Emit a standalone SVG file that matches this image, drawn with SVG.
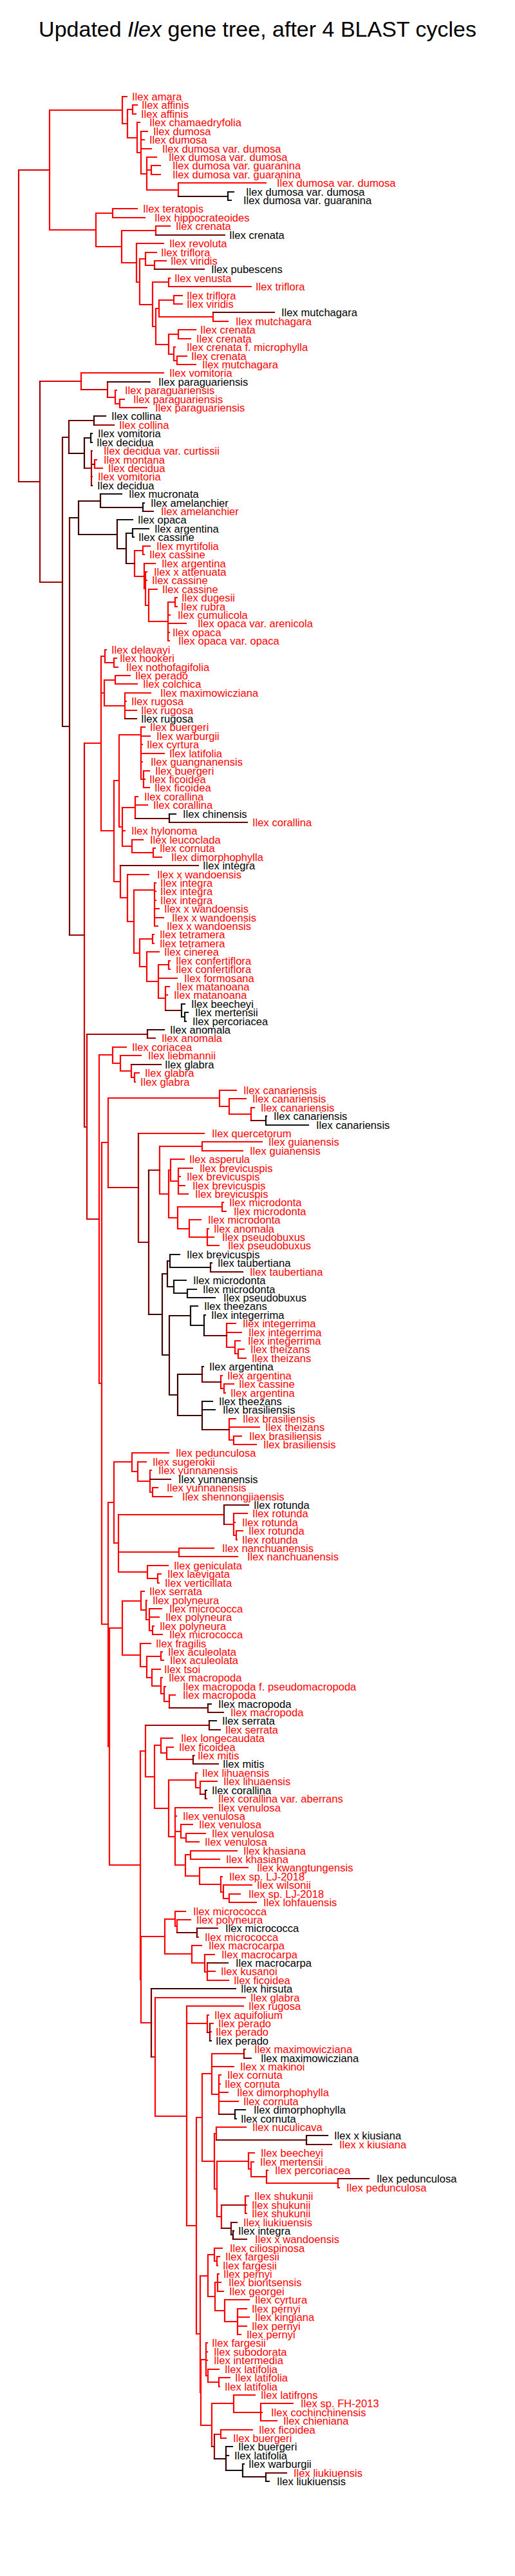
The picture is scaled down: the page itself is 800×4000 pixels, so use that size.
<svg xmlns="http://www.w3.org/2000/svg" width="800" height="4000" viewBox="0 0 800 4000">
<style>
text{font-family:"Liberation Sans",Arial,sans-serif;font-size:16.6px}
.tr{fill:#ff0000}.tk{fill:#000}
.title{font-size:34px;text-anchor:middle;fill:#000}
path{fill:none;stroke-width:2.2;stroke-linecap:square}
.r{stroke:#ff0000}.m{stroke:#d40000}.d{stroke:#a00000}.e{stroke:#700000}.b{stroke:#3c0000}.k{stroke:#111}
</style>
<rect width="800" height="4000" fill="#fff"/>
<text class="title" x="400" y="57">Updated <tspan font-style="italic">Ilex</tspan> gene tree, after 4 BLAST cycles</text>
<g id="connectors">
<path class="r" d="M77 171V357M77 171H190M77 357H149M190 150V192M190 150H197M190 192H198M198 170V214M198 170H206M198 214H213M206 163V177M206 163H213M206 177H211M213 190V237M213 190H217M213 237H219M219 204V270M219 204H229M219 217H224M219 231H235M219 270H228M228 244V295M228 244H243M228 264H235M228 295H277M235 257V271M235 257H249M235 271H249M277 284V305M277 284H413M149 331V383M149 331H175M149 383H189M175 324V338M175 324H213M175 338H225M189 358V408M189 358H242M189 408H212M242 351V365M242 351H264M212 378V438M212 378H254M212 438H217M217 402V473M217 402H226M217 473H237M226 392V412M226 392H243M226 412H240M240 405V418M240 405H258M237 438V507M237 438H262M237 507H242M262 432V445M262 432H264M262 445H390M242 479V535M242 479H247M242 535H262M247 466V492M247 466H270M247 492H331M270 459V472M270 459H283M270 472H283M331 485V499M331 499H354M262 519V550M262 519H277M262 550H270M277 512V526M277 512H304M277 526H296M270 539V560M270 539H272M270 560H275M275 553V566M275 553H290M275 566H304"/>
<path class="r" d="M126 579V605M126 579H254M167 617H179M179 606V627M179 606H181M179 627H186M186 620V633M186 620H193M186 633H228M142 700H143M142 740H143M147 714V727M147 714H150M147 727H159M209 855V895M209 855H222M209 895H224M222 848V861M222 848H233M222 861H224M224 875V914M224 875H241M224 914H226M226 888V940M226 888H228M226 901H228M226 940H231M231 915V965M231 915H244M231 965H261M261 935V995M261 935H272M261 955H264M261 968H289M261 982H263M261 995H263M272 928V942M272 928H275M272 942H275"/>
<path class="r" d="M131 1154H157M157 1019V1290M157 1019H163M157 1076H162M157 1290H177M163 1009V1029M163 1009H165M163 1029H177M177 1022V1036M177 1022H181M177 1036H183M162 1056V1096M162 1056H179M162 1096H194M179 1049V1062M179 1049H202M179 1062H213M194 1076V1116M194 1076H234M194 1089H196M194 1103H212M177 1212V1369M177 1212H185M177 1369H187M185 1141V1284M185 1141H219M185 1284H190M219 1129V1210M219 1129H225M219 1143H233M219 1156H221M219 1170H255M219 1183H221M219 1210H223M223 1197V1223M223 1197H232M223 1210H225M223 1223H232M190 1254V1314M190 1254H210M190 1290H194M190 1314H205M210 1237V1271M210 1237H214M210 1250H229M205 1304V1324M205 1304H222M205 1324H238M238 1317V1331M238 1317H241M238 1331H251M187 1344V1394M187 1394H198M198 1358V1431M198 1358H231M198 1431H208M208 1382V1480M208 1382H240M208 1480H217M240 1371V1438M240 1371H242M240 1384H242M240 1398H242M240 1411H247M240 1425H254M240 1438H245M217 1458V1501M217 1458H237M217 1501H228M237 1451V1465M237 1451H239M237 1465H239M228 1478V1524M228 1478H247M228 1524H246M246 1498V1550M246 1498H262M246 1519H275M246 1550H257M262 1492V1505M262 1492H264M262 1505H264M257 1532V1569M257 1532H263M257 1545H260"/>
<path class="r" d="M154 1638V2148M154 1638H175M154 2148H158M175 1626V1651M175 1626H196M175 1651H187M187 1639V1663M187 1639H219M187 1663H204M204 1653V1673M204 1673H209M209 1666V1680M209 1666H216M209 1680H210M158 1774V2522M158 1774H168M158 2522H168M168 1705V1844M168 1705H341M341 1693V1718M341 1693H367M341 1718H356M356 1706V1730M356 1706H382M356 1730H390M390 1720V1740M390 1720H395M215 1760H317M248 1780V1854M248 1780H314M248 1854H262M314 1773V1787M314 1773H407M314 1787H377M262 1817V1891M262 1817H265M262 1891H276M265 1800V1834M265 1800H286M265 1834H277M277 1814V1854M277 1814H299M277 1827H280M277 1841H287M277 1854H292M276 1874V1908M276 1874H345M276 1908H294M345 1867V1881M345 1867H347M345 1881H351M294 1894V1921M294 1894H312M294 1921H322M322 1908V1934M322 1908H324M322 1921H332M322 1934H340M352 2055V2092M352 2055H366M352 2069H375M352 2092H365M365 2082V2102M365 2082H373M365 2102H370M370 2095V2109M370 2095H379M370 2109H382M343 2136V2156M343 2136H345M343 2156H348M348 2149V2163M348 2149H363M348 2163H350M356 2203V2236M356 2203H366M356 2216H403M356 2236H363M363 2230V2243M363 2230H375M363 2243H398"/>
<path class="r" d="M168 2333V2712M168 2333H177M168 2712H170M177 2270V2396M177 2270H205M177 2396H184M205 2256V2285M205 2256H262M205 2285H214M214 2270V2300M214 2270H227M214 2300H233M233 2283V2317M233 2283H235M233 2317H237M237 2310V2324M237 2310H245M237 2324H267M184 2352V2441M184 2352H348M184 2410H278M184 2441H229M348 2367H363M363 2350V2384M363 2350H384M363 2364H365M363 2384H367M367 2377V2391M367 2377H377M367 2391H368M278 2404V2417M278 2404H332M278 2417H369M229 2431V2451M229 2431H261M229 2451H245M245 2444V2458M245 2444H250M245 2458H247M170 2528V2896M170 2528H190M170 2896H218M190 2486V2570M190 2486H219M190 2570H218M219 2471V2500M219 2471H224M219 2500H227M227 2485V2515M227 2485H228M227 2515H232M232 2498V2532M232 2498H251M232 2511H247M232 2532H237M237 2525V2538M237 2525H239M237 2538H252M218 2552V2588M218 2552H234M218 2588H228M228 2572V2605M228 2572H250M228 2605H236M250 2565V2578M250 2565H252M250 2578H254M236 2592V2618M236 2592H249M236 2618H250M250 2605V2630M250 2605H252M250 2630H255M255 2619V2642M255 2619H257M255 2642H263M263 2632V2652M263 2632H272"/>
<path class="r" d="M218 2719V3074M218 2719H226M218 3074H219M226 2679V2759M226 2759H240M240 2710V2808M240 2710H250M240 2808H262M250 2699V2722M250 2699H268M250 2722H259M259 2713V2732M259 2713H269M259 2732H300M300 2726H302M262 2764V2852M262 2764H304M262 2852H272M304 2753V2776M304 2753H306M304 2776H311M311 2766V2786M311 2766H337M319 2793H321M272 2807V2896M272 2807H330M272 2820H274M272 2844H281M272 2896H288M281 2833V2854M281 2833H299M281 2854H289M289 2847V2860M289 2847H319M289 2860H309M288 2880V2913M288 2880H296M288 2913H310M296 2874V2887M296 2874H368M296 2887H341M310 2900V2926M310 2900H385M310 2926H343M343 2914V2938M343 2914H345M343 2938H347M347 2927V2948M347 2927H391M347 2948H356M356 2941V2954M356 2941H373M356 2954H398M219 3007V3141M219 3007H256M219 3141H235M256 2980V3034M256 2980H272M256 3034H298M272 2968V2991M272 2968H288M272 2991H275M275 2981V3001M275 2981H296M306 3008H308M298 3021V3048M298 3021H313M298 3048H318M318 3035V3062M318 3035H333M318 3062H322M322 3048V3075M322 3061H334M322 3075H355"/>
<path class="r" d="M241 3102V3286M241 3102H381M241 3286H290M290 3115V3456M290 3115H378M290 3142H322M290 3456H305M322 3129V3156M322 3129H324M326 3142H331M326 3155H328M305 3288V3624M305 3288H314M305 3624H311M314 3220V3356M314 3220H329M314 3356H333M329 3189V3252M329 3189H379M329 3209H363M329 3252H340M379 3182H381M340 3222V3283M340 3222H343M340 3236H342M340 3249H354M340 3263H370M333 3313V3399M333 3313H336M333 3399H337M336 3303V3323M336 3303H382M337 3356V3442M337 3356H386M337 3442H344M386 3343V3368M386 3343H395M386 3368H390M390 3357V3380M390 3357H394M390 3380H414M414 3370V3390M414 3370H416M414 3390H525M525 3383V3397M525 3397H527M344 3424V3460M381 3410V3437M381 3410H386M381 3424H383M381 3437H383M311 3534V3715M311 3534H323M311 3715H312M323 3501V3566M323 3501H333M323 3566H334M333 3491V3511M333 3491H345M333 3511H337M337 3504V3518M337 3504H341M337 3518H338M334 3544V3588M334 3544H338M334 3588H349M338 3531V3558M338 3531H340M338 3544H343M338 3558H347M349 3571V3605M349 3571H387M349 3605H369M369 3585V3625M369 3585H383M369 3598H387M369 3612H383M369 3625H374M312 3664V3766M312 3664H320M312 3766H329M320 3638V3689M320 3638H322M320 3652H322M320 3665H322M320 3689H323M323 3679V3699M323 3679H340M323 3699H340M340 3692V3706M340 3692H357M340 3706H341M329 3732V3799M329 3732H363M363 3719V3746M363 3719H396M363 3746H405M405 3732V3759M405 3732H455M405 3746H407M405 3759H430M333 3780H343M343 3773V3786M343 3773H392M343 3786H351"/>
<path class="m" d="M29 264V748M29 264H77M62 592H126M126 605H167M167 593V617M131 1154V1750M131 1750H135M135 1606V1893M135 1893H154M168 1844H215M235 3194H241"/>
<path class="d" d="M29 748H62M62 592V904M62 904H97M146 660H177M142 700V754M142 721H147M131 727H142M108 1452H131M135 1606H229M229 1612H241M215 1760V1929M215 1929H231M231 1817H248M226 2679H325M311 2786H319M322 3156H326M326 3142V3169M379 3182V3196M344 3424H381M329 3799H333M333 3780V3818"/>
<path class="e" d="M242 365H349M240 418H317M331 485H426M97 679V1128M97 679H107M97 1128H108M107 653V704M107 653H146M222 794H238M196 875H209M108 804V1452M194 1116H212M210 1271H263M263 1277H384M187 1344H308M257 1569H282M229 1599V1612M204 1653H250M390 1740H413M231 1817V2041M327 1961V1975M327 1975H377M317 2074H352M314 2122V2146M314 2146H343M314 2220H356M233 2297H265M348 2337V2367M348 2337H386M263 2652H323M323 2646V2659M323 2659H347M325 2672V2686M325 2686H342M300 2726V2739M300 2739H339M319 2780V2793M275 3001H306M306 2994V3008M306 2994H338M322 3048H354M235 3088V3194M379 3196H390M340 3283H365M336 3323H476M476 3330H515M525 3383H573M344 3460H359M359 3451V3470M359 3451H368M362 3477H383M413 3840H445"/>
<path class="b" d="M277 305H354M167 593H233M146 646V660M146 646H164M107 704H131M131 680V727M131 680H141M108 804H122M122 778V830M122 778H156M122 830H182M156 767V788M156 788H222M182 807V852M182 852H196M196 828V875M263 1264V1277M229 1599H255M231 2041H252M252 1978V2104M252 1978H260M252 2104H263M260 1958V1998M260 1958H264M260 1998H270M263 2043V2166M263 2043H296M263 2166H276M276 2134V2198M276 2134H314M276 2198H314M314 2176V2220M235 3088H366M476 3316V3330M476 3316H509M359 3470H362M362 3464V3477M351 3799V3836M333 3818H351M377 3846H413M413 3840V3853"/>
<path class="k" d="M354 298V311M354 298H363M354 311H359M141 673V687M141 673H143M141 687H143M142 754H143M156 767H189M222 781V794M222 781H224M182 807H206M196 828H206M206 821V834M206 821H231M206 834H208M263 1264H273M282 1559V1579M282 1559H287M282 1579H287M287 1572V1586M287 1572H292M287 1586H289M413 1733V1747M413 1733H414M413 1747H479M264 1948V1968M264 1948H279M264 1968H327M327 1961H329M270 1988V2008M270 1988H289M270 2008H291M291 2002V2015M291 2002H305M291 2015H334M296 2028V2058M296 2028H307M296 2058H317M317 2042V2074M317 2042H319M314 2122H316M314 2176H330M314 2189H334M323 2646H328M325 2672H336M319 2780H321M326 3169H328M365 3276V3290M365 3276H381M365 3290H367M362 3464H363M351 3799H361M351 3813H355M351 3836H377M377 3826V3846M377 3826H379M413 3853H418"/>
</g>
<g id="n0"><text class="tr" x="205" y="156">Ilex amara</text></g>
<g id="n1"><text class="tr" x="220" y="169">Ilex affinis</text></g>
<g id="n2"><text class="tr" x="219" y="183">Ilex affinis</text></g>
<g id="n3"><text class="tr" x="232" y="196">Ilex chamaedryfolia</text></g>
<g id="n4"><text class="tr" x="238" y="210">Ilex dumosa</text></g>
<g id="n5"><text class="tr" x="232" y="223">Ilex dumosa</text></g>
<g id="n6"><text class="tr" x="252" y="237">Ilex dumosa var. dumosa</text></g>
<g id="n7"><text class="tr" x="262" y="250">Ilex dumosa var. dumosa</text></g>
<g id="n8"><text class="tr" x="268" y="263">Ilex dumosa var. guaranina</text></g>
<g id="n9"><text class="tr" x="268" y="277">Ilex dumosa var. guaranina</text></g>
<g id="n10"><text class="tr" x="430" y="290">Ilex dumosa var. dumosa</text></g>
<g id="n11"><text class="tk" x="382" y="304">Ilex dumosa var. dumosa</text></g>
<g id="n12"><text class="tk" x="378" y="317">Ilex dumosa var. guaranina</text></g>
<g id="n13"><text class="tr" x="222" y="330">Ilex teratopis</text></g>
<g id="n14"><text class="tr" x="240" y="344">Ilex hippocrateoides</text></g>
<g id="n15"><text class="tr" x="273" y="357">Ilex crenata</text></g>
<g id="n16"><text class="tk" x="356" y="371">Ilex crenata</text></g>
<g id="n17"><text class="tr" x="263" y="384">Ilex revoluta</text></g>
<g id="n18"><text class="tr" x="250" y="398">Ilex triflora</text></g>
<g id="n19"><text class="tr" x="265" y="411">Ilex viridis</text></g>
<g id="n20"><text class="tk" x="328" y="424">Ilex pubescens</text></g>
<g id="n21"><text class="tr" x="271" y="438">Ilex venusta</text></g>
<g id="n22"><text class="tr" x="397" y="451">Ilex triflora</text></g>
<g id="n23"><text class="tr" x="290" y="465">Ilex triflora</text></g>
<g id="n24"><text class="tr" x="290" y="478">Ilex viridis</text></g>
<g id="n25"><text class="tk" x="437" y="491">Ilex mutchagara</text></g>
<g id="n26"><text class="tr" x="366" y="505">Ilex mutchagara</text></g>
<g id="n27"><text class="tr" x="311" y="518">Ilex crenata</text></g>
<g id="n28"><text class="tr" x="305" y="532">Ilex crenata</text></g>
<g id="n29"><text class="tr" x="290" y="545">Ilex crenata f. microphylla</text></g>
<g id="n30"><text class="tr" x="297" y="559">Ilex crenata</text></g>
<g id="n31"><text class="tr" x="314" y="572">Ilex mutchagara</text></g>
<g id="n32"><text class="tr" x="263" y="585">Ilex vomitoria</text></g>
<g id="n33"><text class="tk" x="246" y="599">Ilex paraguariensis</text></g>
<g id="n34"><text class="tr" x="194" y="612">Ilex paraguariensis</text></g>
<g id="n35"><text class="tr" x="207" y="626">Ilex paraguariensis</text></g>
<g id="n36"><text class="tr" x="241" y="639">Ilex paraguariensis</text></g>
<g id="n37"><text class="tk" x="173" y="652">Ilex collina</text></g>
<g id="n38"><text class="tr" x="185" y="666">Ilex collina</text></g>
<g id="n39"><text class="tk" x="152" y="679">Ilex vomitoria</text></g>
<g id="n40"><text class="tk" x="150" y="693">Ilex decidua</text></g>
<g id="n41"><text class="tr" x="161" y="706">Ilex decidua var. curtissii</text></g>
<g id="n42"><text class="tr" x="161" y="720">Ilex montana</text></g>
<g id="n43"><text class="tr" x="168" y="733">Ilex decidua</text></g>
<g id="n44"><text class="tr" x="152" y="746">Ilex vomitoria</text></g>
<g id="n45"><text class="tk" x="151" y="760">Ilex decidua</text></g>
<g id="n46"><text class="tk" x="200" y="773">Ilex mucronata</text></g>
<g id="n47"><text class="tk" x="234" y="787">Ilex amelanchier</text></g>
<g id="n48"><text class="tr" x="250" y="800">Ilex amelanchier</text></g>
<g id="n49"><text class="tk" x="214" y="813">Ilex opaca</text></g>
<g id="n50"><text class="tk" x="240" y="827">Ilex argentina</text></g>
<g id="n51"><text class="tk" x="215" y="840">Ilex cassine</text></g>
<g id="n52"><text class="tr" x="243" y="854">Ilex myrtifolia</text></g>
<g id="n53"><text class="tr" x="232" y="867">Ilex cassine</text></g>
<g id="n54"><text class="tr" x="251" y="881">Ilex argentina</text></g>
<g id="n55"><text class="tr" x="239" y="894">Ilex x attenuata</text></g>
<g id="n56"><text class="tr" x="236" y="907">Ilex cassine</text></g>
<g id="n57"><text class="tr" x="252" y="921">Ilex cassine</text></g>
<g id="n58"><text class="tr" x="282" y="934">Ilex dugesii</text></g>
<g id="n59"><text class="tr" x="281" y="948">Ilex rubra</text></g>
<g id="n60"><text class="tr" x="276" y="961">Ilex cumulicola</text></g>
<g id="n61"><text class="tr" x="307" y="974">Ilex opaca var. arenicola</text></g>
<g id="n62"><text class="tr" x="268" y="988">Ilex opaca</text></g>
<g id="n63"><text class="tr" x="277" y="1001">Ilex opaca var. opaca</text></g>
<g id="n64"><text class="tr" x="173" y="1015">Ilex delavayi</text></g>
<g id="n65"><text class="tr" x="186" y="1028">Ilex hookeri</text></g>
<g id="n66"><text class="tr" x="196" y="1042">Ilex nothofagifolia</text></g>
<g id="n67"><text class="tr" x="210" y="1055">Ilex perado</text></g>
<g id="n68"><text class="tr" x="222" y="1068">Ilex colchica</text></g>
<g id="n69"><text class="tr" x="249" y="1082">Ilex maximowicziana</text></g>
<g id="n70"><text class="tr" x="204" y="1095">Ilex rugosa</text></g>
<g id="n71"><text class="tr" x="219" y="1109">Ilex rugosa</text></g>
<g id="n72"><text class="tk" x="219" y="1122">Ilex rugosa</text></g>
<g id="n73"><text class="tr" x="233" y="1135">Ilex buergeri</text></g>
<g id="n74"><text class="tr" x="243" y="1149">Ilex warburgii</text></g>
<g id="n75"><text class="tr" x="228" y="1162">Ilex cyrtura</text></g>
<g id="n76"><text class="tr" x="263" y="1176">Ilex latifolia</text></g>
<g id="n77"><text class="tr" x="234" y="1189">Ilex guangnanensis</text></g>
<g id="n78"><text class="tr" x="241" y="1203">Ilex buergeri</text></g>
<g id="n79"><text class="tr" x="232" y="1216">Ilex ficoidea</text></g>
<g id="n80"><text class="tr" x="240" y="1229">Ilex ficoidea</text></g>
<g id="n81"><text class="tr" x="224" y="1243">Ilex corallina</text></g>
<g id="n82"><text class="tr" x="238" y="1256">Ilex corallina</text></g>
<g id="n83"><text class="tk" x="284" y="1270">Ilex chinensis</text></g>
<g id="n84"><text class="tr" x="392" y="1283">Ilex corallina</text></g>
<g id="n85"><text class="tr" x="204" y="1296">Ilex hylonoma</text></g>
<g id="n86"><text class="tr" x="233" y="1310">Ilex leucoclada</text></g>
<g id="n87"><text class="tr" x="248" y="1323">Ilex cornuta</text></g>
<g id="n88"><text class="tr" x="266" y="1337">Ilex dimorphophylla</text></g>
<g id="n89"><text class="tk" x="315" y="1350">Ilex integra</text></g>
<g id="n90"><text class="tr" x="244" y="1364">Ilex x wandoensis</text></g>
<g id="n91"><text class="tr" x="249" y="1377">Ilex integra</text></g>
<g id="n92"><text class="tr" x="249" y="1390">Ilex integra</text></g>
<g id="n93"><text class="tr" x="249" y="1404">Ilex integra</text></g>
<g id="n94"><text class="tr" x="255" y="1417">Ilex x wandoensis</text></g>
<g id="n95"><text class="tr" x="267" y="1431">Ilex x wandoensis</text></g>
<g id="n96"><text class="tr" x="259" y="1444">Ilex x wandoensis</text></g>
<g id="n97"><text class="tr" x="248" y="1457">Ilex tetramera</text></g>
<g id="n98"><text class="tr" x="248" y="1471">Ilex tetramera</text></g>
<g id="n99"><text class="tr" x="255" y="1484">Ilex cinerea</text></g>
<g id="n100"><text class="tr" x="273" y="1498">Ilex confertiflora</text></g>
<g id="n101"><text class="tr" x="273" y="1511">Ilex confertiflora</text></g>
<g id="n102"><text class="tr" x="286" y="1525">Ilex formosana</text></g>
<g id="n103"><text class="tr" x="274" y="1538">Ilex matanoana</text></g>
<g id="n104"><text class="tr" x="270" y="1551">Ilex matanoana</text></g>
<g id="n105"><text class="tk" x="297" y="1565">Ilex beecheyi</text></g>
<g id="n106"><text class="tk" x="303" y="1578">Ilex mertensii</text></g>
<g id="n107"><text class="tk" x="299" y="1592">Ilex percoriacea</text></g>
<g id="n108"><text class="tk" x="264" y="1605">Ilex anomala</text></g>
<g id="n109"><text class="tr" x="251" y="1618">Ilex anomala</text></g>
<g id="n110"><text class="tr" x="205" y="1632">Ilex coriacea</text></g>
<g id="n111"><text class="tr" x="230" y="1645">Ilex liebmannii</text></g>
<g id="n112"><text class="tk" x="256" y="1659">Ilex glabra</text></g>
<g id="n113"><text class="tr" x="225" y="1672">Ilex glabra</text></g>
<g id="n114"><text class="tr" x="218" y="1686">Ilex glabra</text></g>
<g id="n115"><text class="tr" x="378" y="1699">Ilex canariensis</text></g>
<g id="n116"><text class="tr" x="392" y="1712">Ilex canariensis</text></g>
<g id="n117"><text class="tr" x="405" y="1726">Ilex canariensis</text></g>
<g id="n118"><text class="tk" x="425" y="1739">Ilex canariensis</text></g>
<g id="n119"><text class="tk" x="491" y="1753">Ilex canariensis</text></g>
<g id="n120"><text class="tr" x="329" y="1766">Ilex quercetorum</text></g>
<g id="n121"><text class="tr" x="417" y="1779">Ilex guianensis</text></g>
<g id="n122"><text class="tr" x="388" y="1793">Ilex guianensis</text></g>
<g id="n123"><text class="tr" x="294" y="1806">Ilex asperula</text></g>
<g id="n124"><text class="tr" x="310" y="1820">Ilex brevicuspis</text></g>
<g id="n125"><text class="tr" x="290" y="1833">Ilex brevicuspis</text></g>
<g id="n126"><text class="tr" x="299" y="1847">Ilex brevicuspis</text></g>
<g id="n127"><text class="tr" x="303" y="1860">Ilex brevicuspis</text></g>
<g id="n128"><text class="tr" x="356" y="1873">Ilex microdonta</text></g>
<g id="n129"><text class="tr" x="363" y="1887">Ilex microdonta</text></g>
<g id="n130"><text class="tr" x="323" y="1900">Ilex microdonta</text></g>
<g id="n131"><text class="tr" x="332" y="1914">Ilex anomala</text></g>
<g id="n132"><text class="tr" x="345" y="1927">Ilex pseudobuxus</text></g>
<g id="n133"><text class="tr" x="354" y="1940">Ilex pseudobuxus</text></g>
<g id="n134"><text class="tk" x="290" y="1954">Ilex brevicuspis</text></g>
<g id="n135"><text class="tk" x="338" y="1967">Ilex taubertiana</text></g>
<g id="n136"><text class="tr" x="388" y="1981">Ilex taubertiana</text></g>
<g id="n137"><text class="tk" x="300" y="1994">Ilex microdonta</text></g>
<g id="n138"><text class="tk" x="315" y="2008">Ilex microdonta</text></g>
<g id="n139"><text class="tk" x="347" y="2021">Ilex pseudobuxus</text></g>
<g id="n140"><text class="tk" x="317" y="2034">Ilex theezans</text></g>
<g id="n141"><text class="tk" x="328" y="2048">Ilex integerrima</text></g>
<g id="n142"><text class="tr" x="377" y="2061">Ilex integerrima</text></g>
<g id="n143"><text class="tr" x="386" y="2075">Ilex integerrima</text></g>
<g id="n144"><text class="tr" x="385" y="2088">Ilex integerrima</text></g>
<g id="n145"><text class="tr" x="389" y="2101">Ilex theizans</text></g>
<g id="n146"><text class="tr" x="391" y="2115">Ilex theizans</text></g>
<g id="n147"><text class="tk" x="325" y="2128">Ilex argentina</text></g>
<g id="n148"><text class="tr" x="353" y="2142">Ilex argentina</text></g>
<g id="n149"><text class="tr" x="371" y="2155">Ilex cassine</text></g>
<g id="n150"><text class="tr" x="358" y="2169">Ilex argentina</text></g>
<g id="n151"><text class="tk" x="340" y="2182">Ilex theezans</text></g>
<g id="n152"><text class="tk" x="346" y="2195">Ilex brasiliensis</text></g>
<g id="n153"><text class="tr" x="377" y="2209">Ilex brasiliensis</text></g>
<g id="n154"><text class="tr" x="412" y="2222">Ilex theizans</text></g>
<g id="n155"><text class="tr" x="387" y="2236">Ilex brasiliensis</text></g>
<g id="n156"><text class="tr" x="409" y="2249">Ilex brasiliensis</text></g>
<g id="n157"><text class="tr" x="273" y="2262">Ilex pedunculosa</text></g>
<g id="n158"><text class="tr" x="237" y="2276">Ilex sugerokii</text></g>
<g id="n159"><text class="tr" x="246" y="2289">Ilex yunnanensis</text></g>
<g id="n160"><text class="tk" x="277" y="2303">Ilex yunnanensis</text></g>
<g id="n161"><text class="tr" x="259" y="2316">Ilex yunnanensis</text></g>
<g id="n162"><text class="tr" x="283" y="2330">Ilex shennongjiaensis</text></g>
<g id="n163"><text class="tk" x="394" y="2343">Ilex rotunda</text></g>
<g id="n164"><text class="tr" x="392" y="2356">Ilex rotunda</text></g>
<g id="n165"><text class="tr" x="376" y="2370">Ilex rotunda</text></g>
<g id="n166"><text class="tr" x="386" y="2383">Ilex rotunda</text></g>
<g id="n167"><text class="tr" x="376" y="2397">Ilex rotunda</text></g>
<g id="n168"><text class="tr" x="345" y="2410">Ilex nanchuanensis</text></g>
<g id="n169"><text class="tr" x="384" y="2423">Ilex nanchuanensis</text></g>
<g id="n170"><text class="tr" x="270" y="2437">Ilex geniculata</text></g>
<g id="n171"><text class="tr" x="260" y="2450">Ilex laevigata</text></g>
<g id="n172"><text class="tr" x="256" y="2464">Ilex verticillata</text></g>
<g id="n173"><text class="tr" x="232" y="2477">Ilex serrata</text></g>
<g id="n174"><text class="tr" x="237" y="2491">Ilex polyneura</text></g>
<g id="n175"><text class="tr" x="263" y="2504">Ilex micrococca</text></g>
<g id="n176"><text class="tr" x="257" y="2517">Ilex polyneura</text></g>
<g id="n177"><text class="tr" x="248" y="2531">Ilex polyneura</text></g>
<g id="n178"><text class="tr" x="263" y="2544">Ilex micrococca</text></g>
<g id="n179"><text class="tr" x="242" y="2558">Ilex fragilis</text></g>
<g id="n180"><text class="tr" x="261" y="2571">Ilex aculeolata</text></g>
<g id="n181"><text class="tr" x="264" y="2584">Ilex aculeolata</text></g>
<g id="n182"><text class="tr" x="255" y="2598">Ilex tsoi</text></g>
<g id="n183"><text class="tr" x="262" y="2611">Ilex macropoda</text></g>
<g id="n184"><text class="tr" x="284" y="2625">Ilex macropoda f. pseudomacropoda</text></g>
<g id="n185"><text class="tr" x="284" y="2638">Ilex macropoda</text></g>
<g id="n186"><text class="tk" x="339" y="2652">Ilex macropoda</text></g>
<g id="n187"><text class="tr" x="358" y="2665">Ilex macropoda</text></g>
<g id="n188"><text class="tk" x="345" y="2678">Ilex serrata</text></g>
<g id="n189"><text class="tr" x="350" y="2692">Ilex serrata</text></g>
<g id="n190"><text class="tr" x="281" y="2705">Ilex longecaudata</text></g>
<g id="n191"><text class="tr" x="278" y="2719">Ilex ficoidea</text></g>
<g id="n192"><text class="tr" x="307" y="2732">Ilex mitis</text></g>
<g id="n193"><text class="tk" x="346" y="2745">Ilex mitis</text></g>
<g id="n194"><text class="tr" x="314" y="2759">Ilex lihuaensis</text></g>
<g id="n195"><text class="tr" x="347" y="2772">Ilex lihuaensis</text></g>
<g id="n196"><text class="tk" x="329" y="2786">Ilex corallina</text></g>
<g id="n197"><text class="tr" x="339" y="2799">Ilex corallina var. aberrans</text></g>
<g id="n198"><text class="tr" x="339" y="2813">Ilex venulosa</text></g>
<g id="n199"><text class="tr" x="284" y="2826">Ilex venulosa</text></g>
<g id="n200"><text class="tr" x="309" y="2839">Ilex venulosa</text></g>
<g id="n201"><text class="tr" x="329" y="2853">Ilex venulosa</text></g>
<g id="n202"><text class="tr" x="318" y="2866">Ilex venulosa</text></g>
<g id="n203"><text class="tr" x="378" y="2880">Ilex khasiana</text></g>
<g id="n204"><text class="tr" x="351" y="2893">Ilex khasiana</text></g>
<g id="n205"><text class="tr" x="399" y="2906">Ilex kwangtungensis</text></g>
<g id="n206"><text class="tr" x="356" y="2920">Ilex sp. LJ-2018</text></g>
<g id="n207"><text class="tr" x="399" y="2933">Ilex wilsonii</text></g>
<g id="n208"><text class="tr" x="386" y="2947">Ilex sp. LJ-2018</text></g>
<g id="n209"><text class="tr" x="409" y="2960">Ilex lohfauensis</text></g>
<g id="n210"><text class="tr" x="300" y="2974">Ilex micrococca</text></g>
<g id="n211"><text class="tr" x="305" y="2987">Ilex polyneura</text></g>
<g id="n212"><text class="tk" x="350" y="3000">Ilex micrococca</text></g>
<g id="n213"><text class="tr" x="318" y="3014">Ilex micrococca</text></g>
<g id="n214"><text class="tr" x="324" y="3027">Ilex macrocarpa</text></g>
<g id="n215"><text class="tr" x="344" y="3041">Ilex macrocarpa</text></g>
<g id="n216"><text class="tk" x="366" y="3054">Ilex macrocarpa</text></g>
<g id="n217"><text class="tr" x="343" y="3067">Ilex kusanoi</text></g>
<g id="n218"><text class="tr" x="363" y="3081">Ilex ficoidea</text></g>
<g id="n219"><text class="tk" x="374" y="3094">Ilex hirsuta</text></g>
<g id="n220"><text class="tr" x="389" y="3108">Ilex glabra</text></g>
<g id="n221"><text class="tr" x="386" y="3121">Ilex rugosa</text></g>
<g id="n222"><text class="tr" x="333" y="3135">Ilex aquifolium</text></g>
<g id="n223"><text class="tr" x="339" y="3148">Ilex perado</text></g>
<g id="n224"><text class="tr" x="335" y="3161">Ilex perado</text></g>
<g id="n225"><text class="tk" x="335" y="3175">Ilex perado</text></g>
<g id="n226"><text class="tr" x="395" y="3188">Ilex maximowicziana</text></g>
<g id="n227"><text class="tk" x="405" y="3202">Ilex maximowicziana</text></g>
<g id="n228"><text class="tr" x="373" y="3215">Ilex x makinoi</text></g>
<g id="n229"><text class="tr" x="353" y="3228">Ilex cornuta</text></g>
<g id="n230"><text class="tr" x="349" y="3242">Ilex cornuta</text></g>
<g id="n231"><text class="tr" x="368" y="3255">Ilex dimorphophylla</text></g>
<g id="n232"><text class="tr" x="378" y="3269">Ilex cornuta</text></g>
<g id="n233"><text class="tk" x="394" y="3282">Ilex dimorphophylla</text></g>
<g id="n234"><text class="tk" x="374" y="3296">Ilex cornuta</text></g>
<g id="n235"><text class="tr" x="392" y="3309">Ilex nuculicava</text></g>
<g id="n236"><text class="tk" x="519" y="3322">Ilex x kiusiana</text></g>
<g id="n237"><text class="tr" x="527" y="3336">Ilex x kiusiana</text></g>
<g id="n238"><text class="tr" x="405" y="3349">Ilex beecheyi</text></g>
<g id="n239"><text class="tr" x="404" y="3363">Ilex mertensii</text></g>
<g id="n240"><text class="tr" x="427" y="3376">Ilex percoriacea</text></g>
<g id="n241"><text class="tk" x="585" y="3389">Ilex pedunculosa</text></g>
<g id="n242"><text class="tr" x="538" y="3403">Ilex pedunculosa</text></g>
<g id="n243"><text class="tr" x="395" y="3416">Ilex shukunii</text></g>
<g id="n244"><text class="tr" x="391" y="3430">Ilex shukunii</text></g>
<g id="n245"><text class="tr" x="391" y="3443">Ilex shukunii</text></g>
<g id="n246"><text class="tr" x="378" y="3457">Ilex liukiuensis</text></g>
<g id="n247"><text class="tk" x="370" y="3470">Ilex integra</text></g>
<g id="n248"><text class="tr" x="396" y="3483">Ilex x wandoensis</text></g>
<g id="n249"><text class="tr" x="357" y="3497">Ilex ciliospinosa</text></g>
<g id="n250"><text class="tr" x="350" y="3510">Ilex fargesii</text></g>
<g id="n251"><text class="tr" x="346" y="3524">Ilex fargesii</text></g>
<g id="n252"><text class="tr" x="347" y="3537">Ilex pernyi</text></g>
<g id="n253"><text class="tr" x="355" y="3550">Ilex bioritsensis</text></g>
<g id="n254"><text class="tr" x="356" y="3564">Ilex georgei</text></g>
<g id="n255"><text class="tr" x="396" y="3577">Ilex cyrtura</text></g>
<g id="n256"><text class="tr" x="391" y="3591">Ilex pernyi</text></g>
<g id="n257"><text class="tr" x="396" y="3604">Ilex kingiana</text></g>
<g id="n258"><text class="tr" x="391" y="3618">Ilex pernyi</text></g>
<g id="n259"><text class="tr" x="383" y="3631">Ilex pernyi</text></g>
<g id="n260"><text class="tr" x="329" y="3644">Ilex fargesii</text></g>
<g id="n261"><text class="tr" x="332" y="3658">Ilex subodorata</text></g>
<g id="n262"><text class="tr" x="332" y="3671">Ilex intermedia</text></g>
<g id="n263"><text class="tr" x="349" y="3685">Ilex latifolia</text></g>
<g id="n264"><text class="tr" x="365" y="3698">Ilex latifolia</text></g>
<g id="n265"><text class="tr" x="349" y="3712">Ilex latifolia</text></g>
<g id="n266"><text class="tr" x="405" y="3725">Ilex latifrons</text></g>
<g id="n267"><text class="tr" x="467" y="3738">Ilex sp. FH-2013</text></g>
<g id="n268"><text class="tr" x="421" y="3752">Ilex cochinchinensis</text></g>
<g id="n269"><text class="tr" x="440" y="3765">Ilex chieniana</text></g>
<g id="n270"><text class="tr" x="402" y="3779">Ilex ficoidea</text></g>
<g id="n271"><text class="tr" x="362" y="3792">Ilex buergeri</text></g>
<g id="n272"><text class="tk" x="370" y="3805">Ilex buergeri</text></g>
<g id="n273"><text class="tk" x="364" y="3819">Ilex latifolia</text></g>
<g id="n274"><text class="tk" x="386" y="3832">Ilex warburgii</text></g>
<g id="n275"><text class="tr" x="456" y="3846">Ilex liukiuensis</text></g>
<g id="n276"><text class="tk" x="430" y="3859">Ilex liukiuensis</text></g>
</svg>
